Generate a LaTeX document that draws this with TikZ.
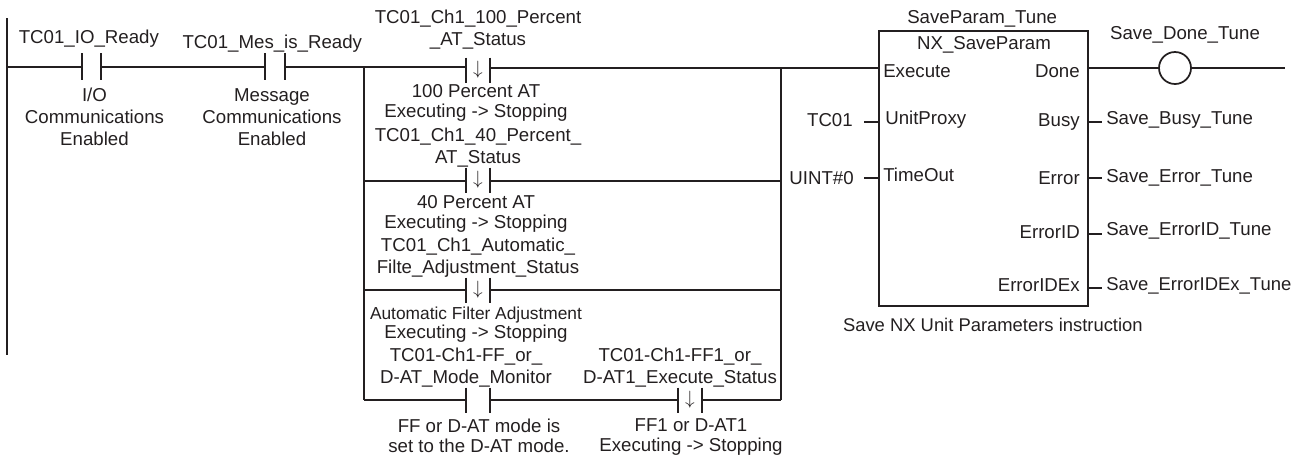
\documentclass[tikz,border=0pt]{standalone}
\usepackage{fontspec}
\setmainfont{Liberation Sans}
\usetikzlibrary{positioning}
\definecolor{ink}{HTML}{231F20}
\tikzset{
  wire/.style={line width=1.1pt,draw=ink},
  railline/.style={line width=1.5pt,draw=ink},
  plate/.style={draw=ink,line width=1.5pt},
  contact/.style={rectangle,inner sep=0pt,outer sep=0pt,minimum height=18.75pt,
                  minimum width=14.25pt,text=ink,
                  append after command={
                    (\tikzlastnode.north west) edge[plate] (\tikzlastnode.south west)
                    (\tikzlastnode.north east) edge[plate] (\tikzlastnode.south east)}},
  falling/.style={contact,minimum width=18pt,font=\fontsize{14}{14}\selectfont},
  varname/.style={inner sep=0pt,align=center,text=ink,
                  font=\fontsize{14}{16.5}\selectfont},
  comment/.style={inner sep=0pt,align=center,text=ink,
                  font=\fontsize{14}{14.8}\selectfont},
  port/.style={inner sep=0pt,text=ink,text height=10pt,text depth=0pt,
               font=\fontsize{14}{16.5}\selectfont},
  fblock/.style={draw=ink,line width=1.5pt,rectangle,inner sep=0pt,outer sep=0pt,
                 minimum width=156.75pt,minimum height=206.25pt},
  coil/.style={draw=ink,line width=1.3pt,circle,inner sep=0pt,outer sep=0pt,
               minimum size=24pt}
}
\begin{document}
\begin{tikzpicture}[x=0.75pt,y=-0.75pt]
  \useasboundingbox (0,0) rectangle (1310,458);

  % power rail and junctions
  \coordinate (railtop) at (7,18);
  \coordinate (railbot) at (7,355);
  \coordinate (jl1) at (364,67);
  \coordinate (jl2) at (364,181);
  \coordinate (jl3) at (364,290);
  \coordinate (jl4) at (364,400);
  \coordinate (jr1) at (781,68);
  \coordinate (jr2) at (781,181);
  \coordinate (jr3) at (781,290);
  \coordinate (jr4) at (781,400);
  \draw[railline] (railtop)--(railbot);

  % contacts
  \node[contact,minimum height=20.25pt] (io) at (91.5,66.5) {};
  \node[contact,minimum height=20.25pt,minimum width=15pt] (mes) at (275,66.5) {};
  \node[falling] (c100) at (478,70) {$\downarrow$};
  \node[falling] (c40) at (478,180) {$\downarrow$};
  \node[falling] (cauto) at (478,290) {$\downarrow$};
  \node[contact,minimum width=18pt] (cff) at (478,400) {};
  \node[falling] (cat) at (690,400) {$\downarrow$};

  % wiring
  \draw[wire] (railtop|-jl1)--(io.west|-jl1);
  \draw[wire] (io.east|-jl1)--(mes.west|-jl1);
  \draw[wire] (mes.east|-jl1)--(jl1);
  \draw[railline] (jl1)--(jl4);
  \draw[railline] (jr1)--(jr4);
  \draw[wire] (jl1)--(c100.west|-jl1);
  \draw[wire] (c100.east|-jr1)--(jr1);
  \draw[wire] (jl2)--(c40.west|-jl2);
  \draw[wire] (c40.east|-jr2)--(jr2);
  \draw[wire] (jl3)--(cauto.west);
  \draw[wire] (cauto.east)--(jr3);
  \draw[wire] (jl4)--(cff.west);
  \draw[wire] (cff.east)--(cat.west);
  \draw[wire] (cat.east)--(jr4);

  % labels of the contacts
  \node[varname,above=3.75pt of io,xshift=-2pt] (ioname) {TC01\_IO\_Ready};
  \node[varname,below=6pt of io,xshift=2.25pt] (ionote)
    {I/O\\Communications\\Enabled};
  \node[varname,above=0pt of mes,xshift=-2pt] (mesname) {TC01\_Mes\_is\_Ready};
  \node[varname,below=6pt of mes,xshift=-2.25pt] (mesnote)
    {Message\\Communications\\Enabled};
  \node[varname,above=6pt of c100] (c100name) {TC01\_Ch1\_100\_Percent\\\_AT\_Status};
  \node[comment,below=1.5pt of c100,xshift=-1.5pt] (c100note)
    {100 Percent AT\\Executing -> Stopping};
  \node[varname,above=0pt of c40] (c40name) {TC01\_Ch1\_40\_Percent\_\\AT\_Status};
  \node[comment,below=2.25pt of c40,xshift=-1.5pt] (c40note)
    {40 Percent AT\\Executing -> Stopping};
  \node[varname,above=0pt of cauto] (cautoname)
    {TC01\_Ch1\_Automatic\_\\Filte\_Adjustment\_Status};
  \node[comment,below=3pt of cauto,xshift=-1.5pt,font=\fontsize{13}{14.5}\selectfont] (cautonote)
    {Automatic Filter Adjustment\\{\fontsize{14}{14.5}\selectfont Executing -> Stopping}};
  \node[varname,above=0pt of cff,xshift=-9pt] (cffname)
    {TC01-Ch1-FF\_or\_\\D-AT\_Mode\_Monitor};
  \node[comment,below=4.5pt of cff,xshift=0.75pt] (cffnote)
    {FF or D-AT mode is\\set to the D-AT mode.};
  \node[varname,above=0pt of cat,xshift=-7.5pt] (catname)
    {TC01-Ch1-FF1\_or\_\\D-AT1\_Execute\_Status};
  \node[comment,below=4.5pt of cat,xshift=0.75pt] (catnote)
    {FF1 or D-AT1\\Executing -> Stopping};

  % function block
  \node[fblock] (block) at (983.5,168.5) {};
  \node[varname,above=2.5pt of block,xshift=-1pt] (blockname) {SaveParam\_Tune};
  \node[port,anchor=center] (blocktype) at (984,43) {NX\_SaveParam};
  \node[port,anchor=west] (execute) at (883,71) {Execute};
  \node[port,anchor=west] (unitproxy) at (885,118) {UnitProxy};
  \node[port,anchor=west] (timeout) at (883,175) {TimeOut};
  \node[port,anchor=east] (done) at (1080,71) {Done};
  \node[port,anchor=east] (busy) at (1080,120) {Busy};
  \node[port,anchor=east] (error) at (1080,178) {Error};
  \node[port,anchor=east] (errorid) at (1080,232) {ErrorID};
  \node[port,anchor=east] (erroridex) at (1080,285) {ErrorIDEx};
  \node[varname,below=9pt of block,xshift=7pt,font=\fontsize{13.8}{16.5}\selectfont] (caption)
    {Save NX Unit Parameters instruction};

  % inputs
  \node[port,anchor=east] (tc01) at (853,120) {TC01};
  \node[port,anchor=east] (uint0) at (854,178) {UINT\#0};
  \coordinate (tc01end) at (864,122);
  \coordinate (uint0end) at (864,178);
  \draw[wire] (jr1)--(block.west|-jr1);
  \draw[wire] (tc01end)--(block.west|-tc01end);
  \draw[wire] (uint0end)--(block.west|-uint0end);

  % outputs
  \node[coil] (donecoil) at (1175,68) {};
  \coordinate (doneend) at (1285,68);
  \node[port] (donename) at (1185,33) {Save\_Done\_Tune};
  \draw[wire] (block.east|-donecoil)--(donecoil);
  \draw[wire] (donecoil)--(doneend);
  \node[port,anchor=west] (busyname) at (1106,118) {Save\_Busy\_Tune};
  \node[port,anchor=west] (errorname) at (1106,176) {Save\_Error\_Tune};
  \node[port,anchor=west] (erroridname) at (1106,229) {Save\_ErrorID\_Tune};
  \node[port,anchor=west,font=\fontsize{13.85}{16.5}\selectfont] (erroridexname) at (1106,284) {Save\_ErrorIDEx\_Tune};
  \coordinate (busyend) at (1102,122);
  \coordinate (errorend) at (1102,178);
  \coordinate (erroridend) at (1102,234);
  \coordinate (erroridexend) at (1102,288);
  \draw[wire] (block.east|-busyend)--(busyend);
  \draw[wire] (block.east|-errorend)--(errorend);
  \draw[wire] (block.east|-erroridend)--(erroridend);
  \draw[wire] (block.east|-erroridexend)--(erroridexend);
\end{tikzpicture}
\end{document}
